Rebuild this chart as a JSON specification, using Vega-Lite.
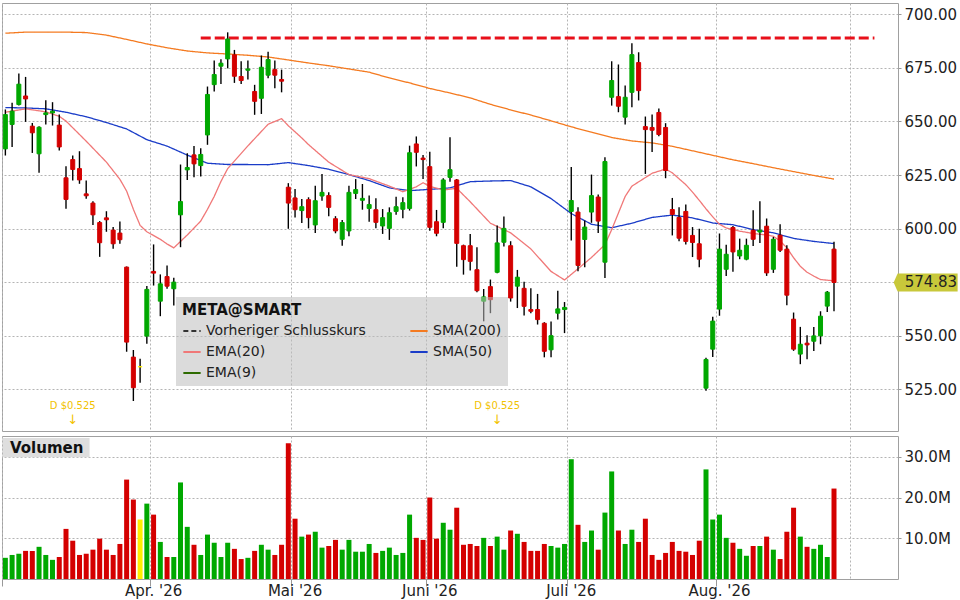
{
"$schema":"https://vega.github.io/schema/vega-lite/v6.json",
"padding":{"left":1,"top":2,"right":0,"bottom":0},
"background":"white",
"config":{"font":"DejaVu Sans","view":{"stroke":"#a0a0a0","strokeWidth":1},"axis":{"gridColor":"#b4b4b4","gridDash":[2,2],"labelFont":"DejaVu Sans","labelFontSize":15,"labelColor":"#222","tickColor":"#999","domainColor":"#a0a0a0","title":null},"concat":{"spacing":3}},
"datasets":{
"ohlc":[
{"d":"2026-03-02","o":637.2,"h":655.6,"l":634.1,"c":653.2,"v":5.2},
{"d":"2026-03-03","o":648.6,"h":658.7,"l":638.1,"c":654.8,"v":5.9},
{"d":"2026-03-04","o":657.9,"h":672.4,"l":657.4,"c":667.4,"v":6.2},
{"d":"2026-03-05","o":661.9,"h":670.8,"l":649.8,"c":660.5,"v":6.9},
{"d":"2026-03-06","o":647.8,"h":649.3,"l":635.3,"c":644.7,"v":6.9},
{"d":"2026-03-09","o":634.9,"h":647.8,"l":626.0,"c":647.3,"v":7.9},
{"d":"2026-03-10","o":653.2,"h":659.9,"l":648.6,"c":654.0,"v":5.9},
{"d":"2026-03-11","o":654.0,"h":659.0,"l":648.1,"c":654.8,"v":4.7},
{"d":"2026-03-12","o":648.3,"h":653.2,"l":636.4,"c":638.1,"v":5.4},
{"d":"2026-03-13","o":623.7,"h":629.1,"l":609.2,"c":613.6,"v":12.3},
{"d":"2026-03-16","o":632.2,"h":634.1,"l":622.4,"c":627.6,"v":9.4},
{"d":"2026-03-17","o":628.0,"h":636.1,"l":620.9,"c":622.7,"v":5.9},
{"d":"2026-03-18","o":616.2,"h":622.4,"l":613.9,"c":615.3,"v":6.2},
{"d":"2026-03-19","o":611.9,"h":612.8,"l":601.7,"c":606.4,"v":7.2},
{"d":"2026-03-20","o":602.8,"h":603.5,"l":586.8,"c":593.4,"v":9.9},
{"d":"2026-03-23","o":605.0,"h":608.1,"l":598.5,"c":604.1,"v":7.2},
{"d":"2026-03-24","o":599.3,"h":600.7,"l":590.6,"c":592.9,"v":5.9},
{"d":"2026-03-25","o":597.9,"h":603.3,"l":592.9,"c":594.8,"v":8.6},
{"d":"2026-03-26","o":582.0,"h":582.3,"l":542.5,"c":547.0,"v":24.4},
{"d":"2026-03-27","o":540.0,"h":543.3,"l":519.5,"c":525.7,"v":19.5},
{"d":"2026-03-30","o":535.5,"h":539.2,"l":528.0,"c":535.5,"v":14.6},
{"d":"2026-03-31","o":549.8,"h":573.2,"l":546.2,"c":571.6,"v":18.5},
{"d":"2026-04-01","o":580.0,"h":592.6,"l":573.4,"c":579.2,"v":15.8},
{"d":"2026-04-02","o":566.1,"h":578.6,"l":559.1,"c":574.2,"v":9.1},
{"d":"2026-04-06","o":577.6,"h":582.8,"l":571.9,"c":573.1,"v":5.4},
{"d":"2026-04-07","o":571.9,"h":577.0,"l":564.1,"c":575.0,"v":5.4},
{"d":"2026-04-08","o":606.4,"h":629.9,"l":591.3,"c":612.6,"v":23.7},
{"d":"2026-04-09","o":627.4,"h":635.2,"l":622.7,"c":628.5,"v":12.8},
{"d":"2026-04-10","o":634.4,"h":638.6,"l":624.0,"c":630.2,"v":8.4},
{"d":"2026-04-13","o":629.4,"h":637.5,"l":624.3,"c":634.6,"v":5.9},
{"d":"2026-04-14","o":643.7,"h":666.3,"l":639.1,"c":662.6,"v":10.9},
{"d":"2026-04-15","o":667.2,"h":678.4,"l":664.0,"c":671.9,"v":8.9},
{"d":"2026-04-16","o":675.8,"h":679.0,"l":667.5,"c":677.2,"v":5.4},
{"d":"2026-04-17","o":679.2,"h":691.6,"l":674.8,"c":688.5,"v":8.9},
{"d":"2026-04-20","o":681.1,"h":683.4,"l":668.0,"c":671.1,"v":7.4},
{"d":"2026-04-21","o":671.0,"h":678.1,"l":667.5,"c":669.1,"v":4.9},
{"d":"2026-04-22","o":673.9,"h":678.4,"l":669.6,"c":674.5,"v":5.2},
{"d":"2026-04-23","o":664.0,"h":667.1,"l":653.1,"c":659.4,"v":6.9},
{"d":"2026-04-24","o":660.8,"h":680.8,"l":653.5,"c":675.3,"v":8.4},
{"d":"2026-04-27","o":671.6,"h":682.6,"l":670.2,"c":678.9,"v":7.2},
{"d":"2026-04-28","o":674.2,"h":678.4,"l":665.5,"c":671.6,"v":5.9},
{"d":"2026-04-29","o":669.6,"h":674.2,"l":663.6,"c":668.8,"v":8.4},
{"d":"2026-04-30","o":619.3,"h":621.2,"l":599.9,"c":611.9,"v":33.3},
{"d":"2026-05-01","o":614.3,"h":618.5,"l":605.2,"c":608.8,"v":14.8},
{"d":"2026-05-04","o":608.4,"h":613.8,"l":602.6,"c":610.2,"v":10.4},
{"d":"2026-05-05","o":613.5,"h":614.6,"l":600.1,"c":605.1,"v":10.9},
{"d":"2026-05-06","o":601.7,"h":620.0,"l":597.9,"c":613.0,"v":11.6},
{"d":"2026-05-07","o":615.2,"h":625.5,"l":613.0,"c":616.9,"v":7.7},
{"d":"2026-05-08","o":615.4,"h":616.9,"l":605.7,"c":609.9,"v":8.1},
{"d":"2026-05-11","o":604.6,"h":605.8,"l":597.8,"c":598.9,"v":9.6},
{"d":"2026-05-12","o":595.0,"h":604.0,"l":592.0,"c":602.8,"v":7.2},
{"d":"2026-05-13","o":598.9,"h":620.0,"l":596.4,"c":616.9,"v":9.6},
{"d":"2026-05-14","o":616.4,"h":623.1,"l":613.8,"c":618.2,"v":6.7},
{"d":"2026-05-15","o":613.2,"h":620.8,"l":608.8,"c":614.1,"v":6.7},
{"d":"2026-05-18","o":609.4,"h":615.4,"l":603.2,"c":611.2,"v":8.6},
{"d":"2026-05-19","o":608.8,"h":614.1,"l":600.1,"c":602.9,"v":6.4},
{"d":"2026-05-20","o":601.2,"h":609.1,"l":597.5,"c":605.1,"v":6.9},
{"d":"2026-05-21","o":600.1,"h":609.9,"l":594.7,"c":607.4,"v":7.7},
{"d":"2026-05-22","o":608.0,"h":614.9,"l":606.5,"c":610.2,"v":5.9},
{"d":"2026-05-26","o":609.0,"h":614.6,"l":604.8,"c":612.1,"v":6.4},
{"d":"2026-05-27","o":609.4,"h":638.7,"l":608.4,"c":635.4,"v":15.8},
{"d":"2026-05-28","o":639.5,"h":643.0,"l":629.0,"c":635.6,"v":10.1},
{"d":"2026-05-29","o":632.9,"h":634.3,"l":623.1,"c":632.2,"v":9.6},
{"d":"2026-06-01","o":628.9,"h":635.9,"l":599.0,"c":600.6,"v":20.0},
{"d":"2026-06-02","o":603.2,"h":608.7,"l":596.4,"c":597.8,"v":9.9},
{"d":"2026-06-03","o":602.9,"h":623.5,"l":600.1,"c":622.7,"v":13.8},
{"d":"2026-06-04","o":623.9,"h":642.6,"l":621.9,"c":627.5,"v":12.1},
{"d":"2026-06-05","o":622.7,"h":623.1,"l":582.2,"c":593.1,"v":17.5},
{"d":"2026-06-08","o":592.0,"h":592.5,"l":578.5,"c":585.5,"v":8.4},
{"d":"2026-06-09","o":592.0,"h":597.5,"l":580.4,"c":584.7,"v":8.6},
{"d":"2026-06-10","o":580.8,"h":591.3,"l":570.3,"c":571.0,"v":8.1},
{"d":"2026-06-11","o":566.1,"h":571.8,"l":556.7,"c":568.1,"v":10.1},
{"d":"2026-06-12","o":572.9,"h":576.2,"l":560.5,"c":566.8,"v":8.1},
{"d":"2026-06-15","o":579.6,"h":601.4,"l":579.1,"c":593.3,"v":10.4},
{"d":"2026-06-16","o":593.6,"h":605.6,"l":591.6,"c":600.1,"v":7.2},
{"d":"2026-06-17","o":592.0,"h":594.1,"l":565.9,"c":567.6,"v":11.9},
{"d":"2026-06-18","o":573.1,"h":580.7,"l":562.9,"c":577.3,"v":11.1},
{"d":"2026-06-22","o":572.1,"h":575.2,"l":559.4,"c":563.7,"v":9.1},
{"d":"2026-06-23","o":562.2,"h":572.1,"l":560.5,"c":561.4,"v":6.9},
{"d":"2026-06-24","o":562.2,"h":569.5,"l":555.2,"c":557.5,"v":6.9},
{"d":"2026-06-25","o":555.8,"h":556.3,"l":539.9,"c":542.7,"v":8.6},
{"d":"2026-06-26","o":543.4,"h":556.6,"l":539.9,"c":550.0,"v":8.1},
{"d":"2026-06-29","o":560.5,"h":571.0,"l":557.5,"c":562.5,"v":7.7},
{"d":"2026-06-30","o":562.2,"h":565.7,"l":551.2,"c":563.2,"v":8.6},
{"d":"2026-07-01","o":608.0,"h":628.7,"l":594.4,"c":613.1,"v":29.4},
{"d":"2026-07-02","o":607.7,"h":610.0,"l":580.1,"c":582.8,"v":13.3},
{"d":"2026-07-06","o":594.9,"h":603.8,"l":582.0,"c":600.7,"v":9.1},
{"d":"2026-07-07","o":607.7,"h":625.2,"l":602.7,"c":615.4,"v":11.9},
{"d":"2026-07-08","o":614.7,"h":615.9,"l":597.9,"c":603.5,"v":7.2},
{"d":"2026-07-09","o":584.3,"h":633.3,"l":576.9,"c":631.3,"v":16.3},
{"d":"2026-07-10","o":661.3,"h":678.1,"l":657.4,"c":669.1,"v":26.4},
{"d":"2026-07-13","o":661.6,"h":676.6,"l":654.3,"c":657.1,"v":11.9},
{"d":"2026-07-14","o":652.0,"h":666.8,"l":648.6,"c":661.3,"v":8.6},
{"d":"2026-07-15","o":663.6,"h":686.5,"l":656.6,"c":681.2,"v":12.1},
{"d":"2026-07-16","o":677.5,"h":682.3,"l":659.8,"c":664.4,"v":9.1},
{"d":"2026-07-17","o":647.6,"h":652.3,"l":625.5,"c":646.2,"v":14.8},
{"d":"2026-07-20","o":647.2,"h":653.2,"l":635.7,"c":645.9,"v":5.9},
{"d":"2026-07-21","o":654.2,"h":656.0,"l":643.1,"c":643.9,"v":4.7},
{"d":"2026-07-22","o":647.2,"h":649.2,"l":623.5,"c":627.1,"v":6.4},
{"d":"2026-07-23","o":608.9,"h":614.3,"l":596.8,"c":606.6,"v":9.1},
{"d":"2026-07-24","o":605.2,"h":610.0,"l":594.1,"c":595.5,"v":6.9},
{"d":"2026-07-27","o":608.0,"h":611.2,"l":592.6,"c":594.0,"v":6.7},
{"d":"2026-07-28","o":596.8,"h":600.7,"l":586.7,"c":593.5,"v":5.9},
{"d":"2026-07-29","o":592.9,"h":599.9,"l":582.0,"c":585.7,"v":9.4},
{"d":"2026-07-30","o":525.5,"h":539.7,"l":524.3,"c":538.9,"v":26.9},
{"d":"2026-07-31","o":543.7,"h":558.8,"l":540.1,"c":556.8,"v":14.6},
{"d":"2026-08-03","o":562.4,"h":597.7,"l":559.3,"c":590.4,"v":15.8},
{"d":"2026-08-04","o":581.0,"h":592.5,"l":577.9,"c":588.0,"v":10.1},
{"d":"2026-08-05","o":600.5,"h":601.2,"l":579.8,"c":589.1,"v":8.9},
{"d":"2026-08-06","o":587.2,"h":595.3,"l":585.7,"c":589.9,"v":7.4},
{"d":"2026-08-07","o":585.7,"h":595.3,"l":585.2,"c":592.2,"v":5.7},
{"d":"2026-08-10","o":599.2,"h":608.6,"l":591.9,"c":595.0,"v":8.1},
{"d":"2026-08-11","o":598.4,"h":612.8,"l":593.3,"c":599.2,"v":8.1},
{"d":"2026-08-12","o":601.1,"h":604.7,"l":577.9,"c":579.3,"v":10.4},
{"d":"2026-08-13","o":581.0,"h":596.1,"l":579.3,"c":595.0,"v":7.2},
{"d":"2026-08-14","o":596.9,"h":602.0,"l":589.1,"c":589.9,"v":4.9},
{"d":"2026-08-17","o":590.4,"h":592.2,"l":564.2,"c":568.9,"v":11.6},
{"d":"2026-08-18","o":557.7,"h":560.8,"l":542.9,"c":543.7,"v":17.5},
{"d":"2026-08-19","o":541.4,"h":554.1,"l":536.7,"c":546.0,"v":10.4},
{"d":"2026-08-20","o":546.5,"h":550.2,"l":539.0,"c":545.7,"v":7.9},
{"d":"2026-08-21","o":547.4,"h":554.1,"l":542.9,"c":549.9,"v":7.4},
{"d":"2026-08-24","o":549.9,"h":561.4,"l":546.0,"c":559.1,"v":8.4},
{"d":"2026-08-25","o":563.8,"h":570.8,"l":561.1,"c":570.3,"v":5.4},
{"d":"2026-08-26","o":590.4,"h":593.8,"l":561.4,"c":574.83,"v":22.2}
],
"ma":[
{"d":"2026-03-02","s":"SMA(200)","p":691.2},{"d":"2026-03-05","s":"SMA(200)","p":691.7},{"d":"2026-03-10","s":"SMA(200)","p":691.7},{"d":"2026-03-13","s":"SMA(200)","p":691.7},{"d":"2026-03-18","s":"SMA(200)","p":691.5},{"d":"2026-03-23","s":"SMA(200)","p":690.3},{"d":"2026-03-26","s":"SMA(200)","p":688.3},{"d":"2026-03-31","s":"SMA(200)","p":686.2},{"d":"2026-04-06","s":"SMA(200)","p":684.4},{"d":"2026-04-09","s":"SMA(200)","p":682.9},{"d":"2026-04-14","s":"SMA(200)","p":682.0},{"d":"2026-04-17","s":"SMA(200)","p":681.5},{"d":"2026-04-22","s":"SMA(200)","p":680.9},{"d":"2026-04-27","s":"SMA(200)","p":680.1},{"d":"2026-04-30","s":"SMA(200)","p":678.7},{"d":"2026-05-05","s":"SMA(200)","p":677.3},{"d":"2026-05-08","s":"SMA(200)","p":676.0},{"d":"2026-05-13","s":"SMA(200)","p":674.5},{"d":"2026-05-18","s":"SMA(200)","p":673.0},{"d":"2026-05-21","s":"SMA(200)","p":670.3},{"d":"2026-05-27","s":"SMA(200)","p":668.0},{"d":"2026-06-01","s":"SMA(200)","p":665.4},{"d":"2026-06-04","s":"SMA(200)","p":663.3},{"d":"2026-06-09","s":"SMA(200)","p":661.0},{"d":"2026-06-12","s":"SMA(200)","p":658.0},{"d":"2026-06-17","s":"SMA(200)","p":655.4},{"d":"2026-06-23","s":"SMA(200)","p":653.0},{"d":"2026-06-26","s":"SMA(200)","p":650.3},{"d":"2026-07-01","s":"SMA(200)","p":647.5},{"d":"2026-07-07","s":"SMA(200)","p":645.0},{"d":"2026-07-10","s":"SMA(200)","p":642.5},{"d":"2026-07-15","s":"SMA(200)","p":640.9},{"d":"2026-07-20","s":"SMA(200)","p":640.0},{"d":"2026-07-23","s":"SMA(200)","p":638.4},{"d":"2026-07-28","s":"SMA(200)","p":636.3},{"d":"2026-07-31","s":"SMA(200)","p":634.2},{"d":"2026-08-05","s":"SMA(200)","p":632.1},{"d":"2026-08-10","s":"SMA(200)","p":630.3},{"d":"2026-08-13","s":"SMA(200)","p":628.4},{"d":"2026-08-18","s":"SMA(200)","p":626.6},{"d":"2026-08-21","s":"SMA(200)","p":624.8},{"d":"2026-08-26","s":"SMA(200)","p":623.1},
{"d":"2026-03-02","s":"SMA(50)","p":656.5},{"d":"2026-03-05","s":"SMA(50)","p":656.3},{"d":"2026-03-10","s":"SMA(50)","p":655.9},{"d":"2026-03-13","s":"SMA(50)","p":654.3},{"d":"2026-03-18","s":"SMA(50)","p":652.2},{"d":"2026-03-23","s":"SMA(50)","p":649.5},{"d":"2026-03-26","s":"SMA(50)","p":646.5},{"d":"2026-03-31","s":"SMA(50)","p":641.5},{"d":"2026-04-06","s":"SMA(50)","p":638.5},{"d":"2026-04-09","s":"SMA(50)","p":634.3},{"d":"2026-04-14","s":"SMA(50)","p":630.5},{"d":"2026-04-17","s":"SMA(50)","p":629.9},{"d":"2026-04-22","s":"SMA(50)","p":629.9},{"d":"2026-04-27","s":"SMA(50)","p":629.8},{"d":"2026-04-30","s":"SMA(50)","p":630.8},{"d":"2026-05-05","s":"SMA(50)","p":629.4},{"d":"2026-05-08","s":"SMA(50)","p":627.7},{"d":"2026-05-13","s":"SMA(50)","p":625.2},{"d":"2026-05-18","s":"SMA(50)","p":622.4},{"d":"2026-05-21","s":"SMA(50)","p":619.0},{"d":"2026-05-27","s":"SMA(50)","p":617.7},{"d":"2026-06-01","s":"SMA(50)","p":618.3},{"d":"2026-06-04","s":"SMA(50)","p":619.0},{"d":"2026-06-09","s":"SMA(50)","p":621.9},{"d":"2026-06-12","s":"SMA(50)","p":622.2},{"d":"2026-06-17","s":"SMA(50)","p":622.4},{"d":"2026-06-23","s":"SMA(50)","p":619.5},{"d":"2026-06-26","s":"SMA(50)","p":614.0},{"d":"2026-07-01","s":"SMA(50)","p":607.0},{"d":"2026-07-07","s":"SMA(50)","p":602.0},{"d":"2026-07-10","s":"SMA(50)","p":600.4},{"d":"2026-07-15","s":"SMA(50)","p":602.5},{"d":"2026-07-20","s":"SMA(50)","p":605.2},{"d":"2026-07-23","s":"SMA(50)","p":606.3},{"d":"2026-07-28","s":"SMA(50)","p":605.0},{"d":"2026-07-31","s":"SMA(50)","p":602.6},{"d":"2026-08-05","s":"SMA(50)","p":601.8},{"d":"2026-08-10","s":"SMA(50)","p":599.5},{"d":"2026-08-13","s":"SMA(50)","p":598.0},{"d":"2026-08-18","s":"SMA(50)","p":595.4},{"d":"2026-08-21","s":"SMA(50)","p":594.0},{"d":"2026-08-26","s":"SMA(50)","p":593.0},
{"d":"2026-03-02","s":"EMA(20)","p":654.3},{"d":"2026-03-05","s":"EMA(20)","p":655.9},{"d":"2026-03-10","s":"EMA(20)","p":654.5},{"d":"2026-03-12","s":"EMA(20)","p":652.4},{"d":"2026-03-13","s":"EMA(20)","p":650.2},{"d":"2026-03-18","s":"EMA(20)","p":640.8},{"d":"2026-03-23","s":"EMA(20)","p":631.0},{"d":"2026-03-25","s":"EMA(20)","p":623.0},{"d":"2026-03-26","s":"EMA(20)","p":617.5},{"d":"2026-03-27","s":"EMA(20)","p":609.0},{"d":"2026-03-30","s":"EMA(20)","p":601.5},{"d":"2026-03-31","s":"EMA(20)","p":598.5},{"d":"2026-04-02","s":"EMA(20)","p":595.0},{"d":"2026-04-06","s":"EMA(20)","p":592.8},{"d":"2026-04-07","s":"EMA(20)","p":591.0},{"d":"2026-04-09","s":"EMA(20)","p":597.0},{"d":"2026-04-13","s":"EMA(20)","p":603.5},{"d":"2026-04-14","s":"EMA(20)","p":609.0},{"d":"2026-04-15","s":"EMA(20)","p":615.0},{"d":"2026-04-16","s":"EMA(20)","p":622.0},{"d":"2026-04-17","s":"EMA(20)","p":628.0},{"d":"2026-04-22","s":"EMA(20)","p":638.6},{"d":"2026-04-27","s":"EMA(20)","p":648.7},{"d":"2026-04-29","s":"EMA(20)","p":651.3},{"d":"2026-04-30","s":"EMA(20)","p":648.0},{"d":"2026-05-04","s":"EMA(20)","p":642.3},{"d":"2026-05-05","s":"EMA(20)","p":639.2},{"d":"2026-05-08","s":"EMA(20)","p":631.0},{"d":"2026-05-13","s":"EMA(20)","p":625.2},{"d":"2026-05-18","s":"EMA(20)","p":623.3},{"d":"2026-05-21","s":"EMA(20)","p":619.8},{"d":"2026-05-26","s":"EMA(20)","p":617.2},{"d":"2026-05-28","s":"EMA(20)","p":619.5},{"d":"2026-05-29","s":"EMA(20)","p":621.4},{"d":"2026-06-01","s":"EMA(20)","p":619.7},{"d":"2026-06-03","s":"EMA(20)","p":618.0},{"d":"2026-06-05","s":"EMA(20)","p":618.8},{"d":"2026-06-09","s":"EMA(20)","p":612.5},{"d":"2026-06-12","s":"EMA(20)","p":602.5},{"d":"2026-06-17","s":"EMA(20)","p":598.0},{"d":"2026-06-23","s":"EMA(20)","p":590.5},{"d":"2026-06-26","s":"EMA(20)","p":580.0},{"d":"2026-06-30","s":"EMA(20)","p":576.0},{"d":"2026-07-01","s":"EMA(20)","p":578.6},{"d":"2026-07-07","s":"EMA(20)","p":586.5},{"d":"2026-07-09","s":"EMA(20)","p":592.5},{"d":"2026-07-10","s":"EMA(20)","p":599.5},{"d":"2026-07-14","s":"EMA(20)","p":615.0},{"d":"2026-07-15","s":"EMA(20)","p":619.8},{"d":"2026-07-20","s":"EMA(20)","p":625.8},{"d":"2026-07-22","s":"EMA(20)","p":627.8},{"d":"2026-07-23","s":"EMA(20)","p":626.0},{"d":"2026-07-27","s":"EMA(20)","p":620.5},{"d":"2026-07-28","s":"EMA(20)","p":617.0},{"d":"2026-07-29","s":"EMA(20)","p":613.2},{"d":"2026-07-30","s":"EMA(20)","p":609.2},{"d":"2026-07-31","s":"EMA(20)","p":605.5},{"d":"2026-08-03","s":"EMA(20)","p":602.0},{"d":"2026-08-04","s":"EMA(20)","p":600.3},{"d":"2026-08-06","s":"EMA(20)","p":598.8},{"d":"2026-08-10","s":"EMA(20)","p":597.7},{"d":"2026-08-12","s":"EMA(20)","p":597.0},{"d":"2026-08-13","s":"EMA(20)","p":596.4},{"d":"2026-08-14","s":"EMA(20)","p":594.2},{"d":"2026-08-17","s":"EMA(20)","p":591.0},{"d":"2026-08-18","s":"EMA(20)","p":586.4},{"d":"2026-08-19","s":"EMA(20)","p":582.4},{"d":"2026-08-20","s":"EMA(20)","p":579.6},{"d":"2026-08-21","s":"EMA(20)","p":577.8},{"d":"2026-08-24","s":"EMA(20)","p":576.2},{"d":"2026-08-26","s":"EMA(20)","p":575.6}
],
"lvl":[{"d1":"2026-04-13","d2":"2026-09-03","p":689}],
"div":[{"d":"2026-03-16","t":"D $0.525"},{"d":"2026-06-15","t":"D $0.525"}],
"lab":[{"t":"Volumen"}]
},
"vconcat":[
{
"width":896,"height":428,
"data":{"name":"ohlc"},
"encoding":{
"x":{"field":"d","type":"ordinal","scale":{"type":"band","paddingInner":0,"paddingOuter":0,"domain":["2026-03-02","2026-03-03","2026-03-04","2026-03-05","2026-03-06","2026-03-09","2026-03-10","2026-03-11","2026-03-12","2026-03-13","2026-03-16","2026-03-17","2026-03-18","2026-03-19","2026-03-20","2026-03-23","2026-03-24","2026-03-25","2026-03-26","2026-03-27","2026-03-30","2026-03-31","2026-04-01","2026-04-02","2026-04-06","2026-04-07","2026-04-08","2026-04-09","2026-04-10","2026-04-13","2026-04-14","2026-04-15","2026-04-16","2026-04-17","2026-04-20","2026-04-21","2026-04-22","2026-04-23","2026-04-24","2026-04-27","2026-04-28","2026-04-29","2026-04-30","2026-05-01","2026-05-04","2026-05-05","2026-05-06","2026-05-07","2026-05-08","2026-05-11","2026-05-12","2026-05-13","2026-05-14","2026-05-15","2026-05-18","2026-05-19","2026-05-20","2026-05-21","2026-05-22","2026-05-26","2026-05-27","2026-05-28","2026-05-29","2026-06-01","2026-06-02","2026-06-03","2026-06-04","2026-06-05","2026-06-08","2026-06-09","2026-06-10","2026-06-11","2026-06-12","2026-06-15","2026-06-16","2026-06-17","2026-06-18","2026-06-22","2026-06-23","2026-06-24","2026-06-25","2026-06-26","2026-06-29","2026-06-30","2026-07-01","2026-07-02","2026-07-06","2026-07-07","2026-07-08","2026-07-09","2026-07-10","2026-07-13","2026-07-14","2026-07-15","2026-07-16","2026-07-17","2026-07-20","2026-07-21","2026-07-22","2026-07-23","2026-07-24","2026-07-27","2026-07-28","2026-07-29","2026-07-30","2026-07-31","2026-08-03","2026-08-04","2026-08-05","2026-08-06","2026-08-07","2026-08-10","2026-08-11","2026-08-12","2026-08-13","2026-08-14","2026-08-17","2026-08-18","2026-08-19","2026-08-20","2026-08-21","2026-08-24","2026-08-25","2026-08-26","2026-08-27","2026-08-28","2026-08-31","2026-09-01","2026-09-02","2026-09-03","2026-09-04","2026-09-08","2026-09-09"]},
"axis":{"values":["2026-03-02","2026-04-01","2026-05-01","2026-06-01","2026-07-01","2026-08-03","2026-08-31"],"bandPosition":0,"labels":false,"ticks":false,"domain":false,"grid":true}}
},
"layer":[
{"data":{"name":"ma"},"mark":{"type":"line","strokeWidth":1.3,"interpolate":"linear"},
"encoding":{
"y":{"field":"p","type":"quantitative","scale":{"domain":[505.5,705.3],"zero":false,"nice":false},"axis":{"orient":"right","values":[525,550,575,600,625,650,675,700],"labelExpr":"datum.value==575?'':format(datum.value,'.2f')","tickSize":3,"labelPadding":3,"domain":false,"grid":true}},
"color":{"field":"s","type":"nominal","scale":{"domain":["Vorheriger Schlusskurs","EMA(20)","EMA(9)","SMA(200)","SMA(50)"],"range":["#333333","#f07878","#2e6b00","#f47a20","#1a3cc8"]},
"legend":{"orient":"none","legendX":174,"legendY":294,"columns":2,"title":"META@SMART","titleFontSize":15,"titleFontWeight":"bold","titleColor":"#111","titleFont":"DejaVu Sans","labelFont":"DejaVu Sans","labelFontSize":14,"labelColor":"#222","symbolType":"stroke","symbolSize":300,"symbolStrokeWidth":2,"fillColor":"rgba(190,190,190,0.55)","padding":6,"rowPadding":4,"columnPadding":40,"titlePadding":3}},
"strokeDash":{"field":"s","type":"nominal","scale":{"domain":["Vorheriger Schlusskurs","EMA(20)","EMA(9)","SMA(200)","SMA(50)"],"range":[[5,3],[1,0],[1,0],[1,0],[1,0]]},
"legend":{"orient":"none","legendX":174,"legendY":294,"columns":2,"title":"META@SMART","titleFontSize":15,"titleFontWeight":"bold","titleColor":"#111","titleFont":"DejaVu Sans","labelFont":"DejaVu Sans","labelFontSize":14,"labelColor":"#222","symbolType":"stroke","symbolSize":300,"symbolStrokeWidth":2,"fillColor":"rgba(190,190,190,0.55)","padding":6,"rowPadding":4,"columnPadding":40,"titlePadding":3}}
}},
{"data":{"name":"lvl"},"mark":{"type":"rule","color":"#e8101a","strokeWidth":3,"strokeDash":[10,4]},
"encoding":{"x":{"field":"d1","type":"ordinal"},"x2":{"field":"d2"},"y":{"field":"p","type":"quantitative"}}},
{"mark":{"type":"rule","color":"#000000","strokeWidth":1.4},
"encoding":{"y":{"field":"l","type":"quantitative"},"y2":{"field":"h"}}},
{"mark":{"type":"bar","size":4,"strokeWidth":1},
"encoding":{"y":{"field":"o","type":"quantitative"},"y2":{"field":"c"},
"fill":{"condition":[{"test":"datum.c==datum.o","value":"#ffee00"},{"test":"datum.c>datum.o","value":"#00a800"}],"value":"#d40000"},
"stroke":{"condition":[{"test":"datum.c==datum.o","value":"#ffee00"},{"test":"datum.c>datum.o","value":"#00a800"}],"value":"#d40000"}}},
{"data":{"name":"div"},"mark":{"type":"text","color":"#f2c200","fontSize":10,"baseline":"middle"},
"encoding":{"x":{"field":"d","type":"ordinal"},"y":{"datum":517.2,"type":"quantitative"},"text":{"field":"t"}}},
{"data":{"name":"div"},"mark":{"type":"text","color":"#f2c200","fontSize":13,"baseline":"middle","text":"↓"},
"encoding":{"x":{"field":"d","type":"ordinal"},"y":{"datum":510.5,"type":"quantitative"}}},
{"transform":[{"filter":"datum.d=='2026-08-26'"}],
"mark":{"type":"point","shape":"M -1 0 L -0.875 -0.28 L 1 -0.28 L 1 0.28 L -0.875 0.28 Z","size":4096,"filled":true,"color":"#c8c83a","opacity":1,"xOffset":31,"clip":false},
"encoding":{"x":{"datum":"2026-09-09","type":"ordinal"},"y":{"field":"c","type":"quantitative"}}},
{"transform":[{"filter":"datum.d=='2026-08-26'"}],
"mark":{"type":"text","align":"left","baseline":"middle","dx":10,"fontSize":15,"color":"#222"},
"encoding":{"x":{"datum":"2026-09-09","type":"ordinal"},"y":{"field":"c","type":"quantitative"},"text":{"field":"c","type":"quantitative","format":".2f"}}}
]
},
{
"width":896,"height":143,
"data":{"name":"ohlc"},
"encoding":{
"x":{"field":"d","type":"ordinal","scale":{"type":"band","paddingInner":0,"paddingOuter":0,"domain":["2026-03-02","2026-03-03","2026-03-04","2026-03-05","2026-03-06","2026-03-09","2026-03-10","2026-03-11","2026-03-12","2026-03-13","2026-03-16","2026-03-17","2026-03-18","2026-03-19","2026-03-20","2026-03-23","2026-03-24","2026-03-25","2026-03-26","2026-03-27","2026-03-30","2026-03-31","2026-04-01","2026-04-02","2026-04-06","2026-04-07","2026-04-08","2026-04-09","2026-04-10","2026-04-13","2026-04-14","2026-04-15","2026-04-16","2026-04-17","2026-04-20","2026-04-21","2026-04-22","2026-04-23","2026-04-24","2026-04-27","2026-04-28","2026-04-29","2026-04-30","2026-05-01","2026-05-04","2026-05-05","2026-05-06","2026-05-07","2026-05-08","2026-05-11","2026-05-12","2026-05-13","2026-05-14","2026-05-15","2026-05-18","2026-05-19","2026-05-20","2026-05-21","2026-05-22","2026-05-26","2026-05-27","2026-05-28","2026-05-29","2026-06-01","2026-06-02","2026-06-03","2026-06-04","2026-06-05","2026-06-08","2026-06-09","2026-06-10","2026-06-11","2026-06-12","2026-06-15","2026-06-16","2026-06-17","2026-06-18","2026-06-22","2026-06-23","2026-06-24","2026-06-25","2026-06-26","2026-06-29","2026-06-30","2026-07-01","2026-07-02","2026-07-06","2026-07-07","2026-07-08","2026-07-09","2026-07-10","2026-07-13","2026-07-14","2026-07-15","2026-07-16","2026-07-17","2026-07-20","2026-07-21","2026-07-22","2026-07-23","2026-07-24","2026-07-27","2026-07-28","2026-07-29","2026-07-30","2026-07-31","2026-08-03","2026-08-04","2026-08-05","2026-08-06","2026-08-07","2026-08-10","2026-08-11","2026-08-12","2026-08-13","2026-08-14","2026-08-17","2026-08-18","2026-08-19","2026-08-20","2026-08-21","2026-08-24","2026-08-25","2026-08-26","2026-08-27","2026-08-28","2026-08-31","2026-09-01","2026-09-02","2026-09-03","2026-09-04","2026-09-08","2026-09-09"]},
"axis":{"values":["2026-03-02","2026-04-01","2026-05-01","2026-06-01","2026-07-01","2026-08-03","2026-08-31"],"bandPosition":0,"grid":true,"domain":false,"tickSize":7,"tickColor":"#999","tickOpacity":{"condition":{"test":"datum.value=='2026-08-31'","value":0},"value":1},"labelPadding":-3,"labelOverlap":false,"labelFlush":false,"labelAngle":0,
"labelExpr":"datum.value=='2026-04-01'?\"Apr. '26\":datum.value=='2026-05-01'?\"Mai '26\":datum.value=='2026-06-01'?\"Juni '26\":datum.value=='2026-07-01'?\"Juli '26\":datum.value=='2026-08-03'?\"Aug. '26\":''"}}
},
"layer":[
{"data":{"name":"lab"},"mark":{"type":"rect","color":"#dedede"},
"encoding":{"x":{"datum":"2026-03-02","type":"ordinal","bandPosition":0},"x2":{"datum":"2026-03-19","bandPosition":0},"y":{"datum":34.6,"type":"quantitative"},"y2":{"datum":29.9}}},
{"data":{"name":"lab"},"mark":{"type":"text","align":"left","baseline":"middle","dx":8,"fontSize":15,"fontWeight":"bold","color":"#111"},
"encoding":{"x":{"datum":"2026-03-02","type":"ordinal","bandPosition":0},"y":{"datum":32.25,"type":"quantitative"},"text":{"field":"t"}}},
{"mark":{"type":"bar","size":5},
"encoding":{"y":{"field":"v","type":"quantitative","scale":{"domain":[0,35.1],"nice":false},"axis":{"orient":"right","values":[10,20,30],"labelExpr":"format(datum.value,'.1f')+'M'","tickSize":3,"labelPadding":3,"domain":false,"grid":true}},
"fill":{"condition":[{"test":"datum.c==datum.o","value":"#ffee00"},{"test":"datum.c>datum.o","value":"#00a800"}],"value":"#d40000"}}}
]
}
]
}
